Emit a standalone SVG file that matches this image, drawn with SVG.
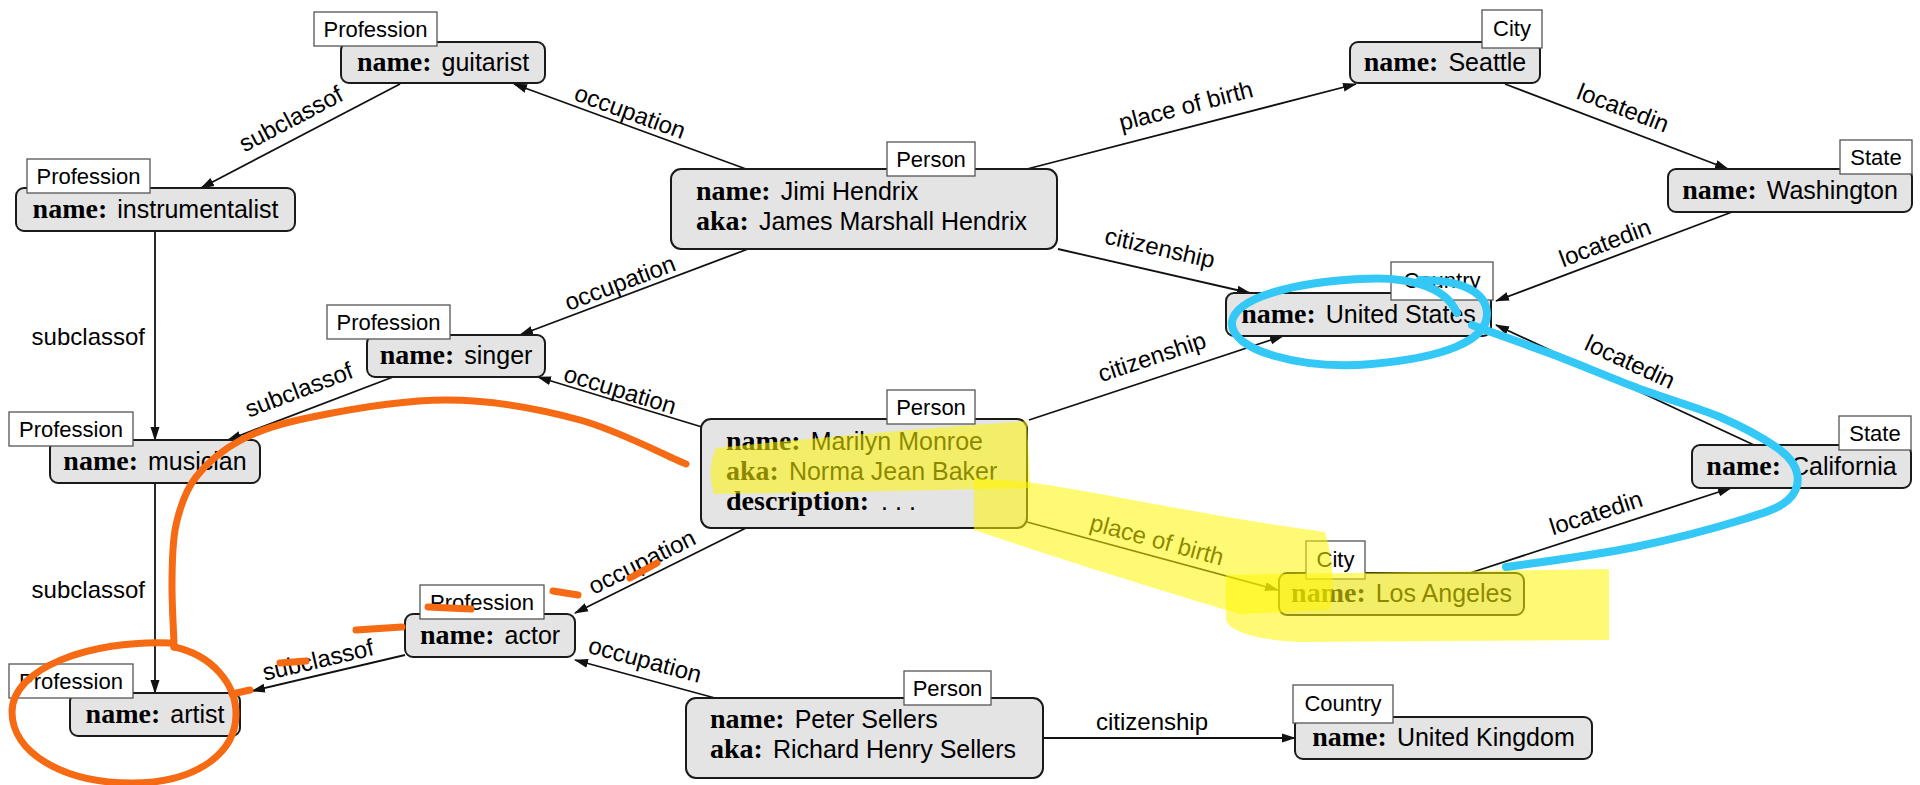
<svg xmlns="http://www.w3.org/2000/svg" width="1920" height="785" viewBox="0 0 1920 785">
<style>
.nd rect.b{fill:#e4e4e4;stroke:#1a1a1a;stroke-width:2}
.nd rect.l{fill:#fff;stroke:#555;stroke-width:1.3}
.lt{font-family:"Liberation Sans",Arial,sans-serif;font-size:22px;text-anchor:middle;fill:#000}
.c{text-anchor:middle}
.k{font-family:"Liberation Serif","Times New Roman",serif;font-weight:bold;font-size:28px;fill:#000}
.v{font-family:"Liberation Sans",Arial,sans-serif;font-size:25px;fill:#000}
#edges line{stroke:#111;stroke-width:1.8;fill:none;marker-end:url(#arr)}
.el{font-family:"Liberation Sans",Arial,sans-serif;font-size:24px;text-anchor:middle;fill:#000}
.er{font-family:"Liberation Sans",Arial,sans-serif;font-size:24px;text-anchor:end;fill:#000}
.hl{fill:#fff500;fill-opacity:0.55}
.or{fill:none;stroke:#f56a12;stroke-width:7;stroke-linecap:round;stroke-linejoin:round}
.cy{fill:none;stroke:#33c8f6;stroke-width:8;stroke-linecap:round;stroke-linejoin:round}
</style>
<defs>
<marker id="arr" viewBox="0 0 14 10" refX="13" refY="5" markerWidth="14" markerHeight="10" orient="auto" markerUnits="userSpaceOnUse">
<path d="M0,0.5 L14,5 L0,9.5 Z" fill="#111"/>
</marker>
</defs>
<rect width="1920" height="785" fill="#fff"/>

<g id="edges">
<line x1="400" y1="84" x2="201" y2="188"/>
<line x1="746" y1="169" x2="514" y2="84"/>
<line x1="1027" y1="169" x2="1356" y2="84"/>
<line x1="1058" y1="249" x2="1250" y2="293"/>
<line x1="1505" y1="84" x2="1728" y2="169"/>
<line x1="1732" y1="212" x2="1496" y2="301"/>
<line x1="748" y1="249" x2="520" y2="335"/>
<line x1="702" y1="427" x2="538" y2="377"/>
<line x1="393" y1="377" x2="228" y2="440"/>
<line x1="155" y1="231" x2="155" y2="440"/>
<line x1="1029" y1="420" x2="1283" y2="336"/>
<line x1="1754" y1="445" x2="1496" y2="325"/>
<line x1="1027" y1="522" x2="1278" y2="590"/>
<line x1="1470" y1="573" x2="1731" y2="488"/>
<line x1="746" y1="528" x2="575" y2="613"/>
<line x1="405" y1="655" x2="252" y2="691"/>
<line x1="715" y1="698" x2="575" y2="660"/>
<line x1="1043" y1="738" x2="1295" y2="738"/>
<line x1="155" y1="483" x2="155" y2="693"/>
<g id="edge-labels">
<text class="el" transform="translate(291,119) rotate(-27.8)" y="8">subclassof</text>
<text class="el" transform="translate(630,112) rotate(20.1)" y="8">occupation</text>
<text class="el" transform="translate(1186,106) rotate(-14.5)" y="8">place of birth</text>
<text class="el" transform="translate(1160,248) rotate(12.9)" y="8">citizenship</text>
<text class="el" transform="translate(1623,108) rotate(21.1)" y="8">locatedin</text>
<text class="el" transform="translate(1605,243) rotate(-20.7)" y="8">locatedin</text>
<text class="el" transform="translate(620,283) rotate(-20.7)" y="8">occupation</text>
<text class="el" transform="translate(620,390) rotate(17)" y="8">occupation</text>
<text class="el" transform="translate(299,390) rotate(-20.9)" y="8">subclassof</text>
<text class="er" x="145" y="345">subclassof</text>
<text class="el" transform="translate(1152,357) rotate(-18.3)" y="8">citizenship</text>
<text class="el" transform="translate(1630,362) rotate(24.9)" y="8">locatedin</text>
<text class="el" transform="translate(1157,540) rotate(15.2)" y="8">place of birth</text>
<text class="el" transform="translate(1596,513) rotate(-18)" y="8">locatedin</text>
<text class="el" transform="translate(642,562) rotate(-26.4)" y="8">occupation</text>
<text class="el" transform="translate(318,660) rotate(-13.2)" y="8">subclassof</text>
<text class="el" transform="translate(645,660) rotate(15.2)" y="8">occupation</text>
<text class="el" x="1152" y="730">citizenship</text>
<text class="er" x="145" y="598">subclassof</text>
</g>
</g>

<g id="guitarist" class="nd">
<rect class="b" x="341" y="42" width="204" height="41" rx="8"/>
<text class="c" x="443" y="71"><tspan class="k">name:</tspan><tspan class="v" dx="10">guitarist</tspan></text>
<rect class="l" x="314" y="12" width="123" height="34"/>
<text class="lt" x="375.5" y="37">Profession</text>
</g>
<g id="instrumentalist" class="nd">
<rect class="b" x="16" y="188" width="279" height="43" rx="8"/>
<text class="c" x="155.5" y="218"><tspan class="k">name:</tspan><tspan class="v" dx="10">instrumentalist</tspan></text>
<rect class="l" x="27" y="159" width="123" height="34"/>
<text class="lt" x="88.5" y="184">Profession</text>
</g>
<g id="singer" class="nd">
<rect class="b" x="367" y="335" width="178" height="42" rx="8"/>
<text class="c" x="456" y="364"><tspan class="k">name:</tspan><tspan class="v" dx="10">singer</tspan></text>
<rect class="l" x="327" y="305" width="123" height="34"/>
<text class="lt" x="388.5" y="330">Profession</text>
</g>
<g id="musician" class="nd">
<rect class="b" x="50" y="440" width="210" height="43" rx="8"/>
<text class="c" x="155" y="470"><tspan class="k">name:</tspan><tspan class="v" dx="10">musician</tspan></text>
<rect class="l" x="9" y="412" width="124" height="34"/>
<text class="lt" x="71" y="437">Profession</text>
</g>
<g id="actor" class="nd">
<rect class="b" x="405" y="614" width="170" height="43" rx="8"/>
<text class="c" x="490" y="644"><tspan class="k">name:</tspan><tspan class="v" dx="10">actor</tspan></text>
<rect class="l" x="420" y="585" width="124" height="34"/>
<text class="lt" x="482" y="610">Profession</text>
</g>
<g id="artist" class="nd">
<rect class="b" x="70" y="693" width="170" height="43" rx="8"/>
<text class="c" x="155" y="723"><tspan class="k">name:</tspan><tspan class="v" dx="10">artist</tspan></text>
<rect class="l" x="9" y="664" width="124" height="34"/>
<text class="lt" x="71" y="689">Profession</text>
</g>
<g id="jimi" class="nd">
<rect class="b" x="671" y="169" width="386" height="80" rx="10"/>
<text x="696" y="200"><tspan class="k">name:</tspan><tspan class="v" dx="10">Jimi Hendrix</tspan></text>
<text x="696" y="230"><tspan class="k">aka:</tspan><tspan class="v" dx="10">James Marshall Hendrix</tspan></text>
<rect class="l" x="887" y="142" width="88" height="34"/>
<text class="lt" x="931" y="167">Person</text>
</g>
<g id="marilyn" class="nd">
<rect class="b" x="701" y="419" width="326" height="109" rx="10"/>
<text x="726" y="450"><tspan class="k">name:</tspan><tspan class="v" dx="10">Marilyn Monroe</tspan></text>
<text x="726" y="480"><tspan class="k">aka:</tspan><tspan class="v" dx="10">Norma Jean Baker</tspan></text>
<text x="726" y="510"><tspan class="k">description:</tspan><tspan class="v" dx="12">. . .</tspan></text>
<rect class="l" x="887" y="390" width="88" height="34"/>
<text class="lt" x="931" y="415">Person</text>
</g>
<g id="peter" class="nd">
<rect class="b" x="686" y="698" width="357" height="80" rx="10"/>
<text x="710" y="728"><tspan class="k">name:</tspan><tspan class="v" dx="10">Peter Sellers</tspan></text>
<text x="710" y="758"><tspan class="k">aka:</tspan><tspan class="v" dx="10">Richard Henry Sellers</tspan></text>
<rect class="l" x="904" y="671" width="87" height="34"/>
<text class="lt" x="947.5" y="696">Person</text>
</g>
<g id="seattle" class="nd">
<rect class="b" x="1350" y="42" width="190" height="41" rx="8"/>
<text class="c" x="1445" y="71"><tspan class="k">name:</tspan><tspan class="v" dx="10">Seattle</tspan></text>
<rect class="l" x="1482" y="10" width="60" height="38"/>
<text class="lt" x="1512" y="36">City</text>
</g>
<g id="washington" class="nd">
<rect class="b" x="1668" y="169" width="244" height="43" rx="8"/>
<text class="c" x="1790" y="199"><tspan class="k">name:</tspan><tspan class="v" dx="10">Washington</tspan></text>
<rect class="l" x="1840" y="140" width="72" height="34"/>
<text class="lt" x="1876" y="165">State</text>
</g>
<g id="us" class="nd">
<rect class="b" x="1226" y="293" width="265" height="43" rx="8"/>
<text class="c" x="1358.5" y="323"><tspan class="k">name:</tspan><tspan class="v" dx="10">United States</tspan></text>
<rect class="l" x="1391" y="262" width="102" height="38"/>
<text class="lt" x="1442" y="288">Country</text>
</g>
<g id="california" class="nd">
<rect class="b" x="1692" y="445" width="219" height="43" rx="8"/>
<text class="c" x="1801.5" y="475"><tspan class="k">name:</tspan><tspan class="v" dx="10">California</tspan></text>
<rect class="l" x="1839" y="416" width="72" height="34"/>
<text class="lt" x="1875" y="441">State</text>
</g>
<g id="losangeles" class="nd">
<rect class="b" x="1279" y="573" width="245" height="42" rx="8"/>
<text class="c" x="1401.5" y="602"><tspan class="k">name:</tspan><tspan class="v" dx="10">Los Angeles</tspan></text>
<rect class="l" x="1306" y="541" width="59" height="38"/>
<text class="lt" x="1335.5" y="567">City</text>
</g>
<g id="uk" class="nd">
<rect class="b" x="1295" y="717" width="297" height="42" rx="8"/>
<text class="c" x="1443.5" y="746"><tspan class="k">name:</tspan><tspan class="v" dx="10">United Kingdom</tspan></text>
<rect class="l" x="1293" y="685" width="100" height="38"/>
<text class="lt" x="1343" y="711">Country</text>
</g>

<g id="annotations">
<path class="hl" d="M716 448 Q870 432 1027 421 L1030 488 Q870 492 714 494 Q706 471 716 448 Z"/>
<path class="hl" d="M974 478 L1027 482 C1100 492 1200 515 1325 532 Q1337 570 1330 610 L1240 614 C1180 596 1100 572 974 530 Z"/>
<path class="hl" d="M1226 575 L1609 569 L1609 640 L1300 642 Q1232 638 1226 620 Z"/>
<path class="or" d="M686 464 C668 457 620 431 580 420 C540 409 491 400 446 400 C401 400 346 410 312 417 C278 424 260 430 241 440 C222 450 207 463 196 477 C185 491 180 507 176 525 C172 543 172 567 172 587 C172 607 174 637 174 647"/>
<path class="or" d="M174 647 C212 655 236 684 236 714 C236 752 198 783 132 783 C62 783 12 752 12 712 C12 668 90 640 170 643"/>
<path class="or" d="M553 591 L578 595"/>
<path class="or" d="M428 607 L471 609"/>
<path class="or" d="M356 630 L402 627"/>
<path class="or" d="M280 663 L306 661"/>
<path class="or" d="M232 694 L250 690"/>
<path class="or" d="M630 578 L657 563"/>
<path class="cy" d="M1457 313 C1445 285 1405 276 1360 279 C1300 282 1236 296 1232 322 C1229 350 1300 370 1372 364 C1440 358 1488 342 1487 313 C1486 292 1462 280 1420 280"/>
<path class="cy" d="M1472 325 C1485 330 1522 343 1549 353 C1576 363 1606 376 1635 387 C1663 398 1696 407 1720 417 C1743 427 1763 438 1776 447 C1789 456 1795 464 1797 473 C1799 482 1797 492 1788 500 C1779 508 1767 512 1741 520 C1715 528 1674 539 1635 547 C1596 555 1528 564 1506 567"/>
</g>
</svg>
